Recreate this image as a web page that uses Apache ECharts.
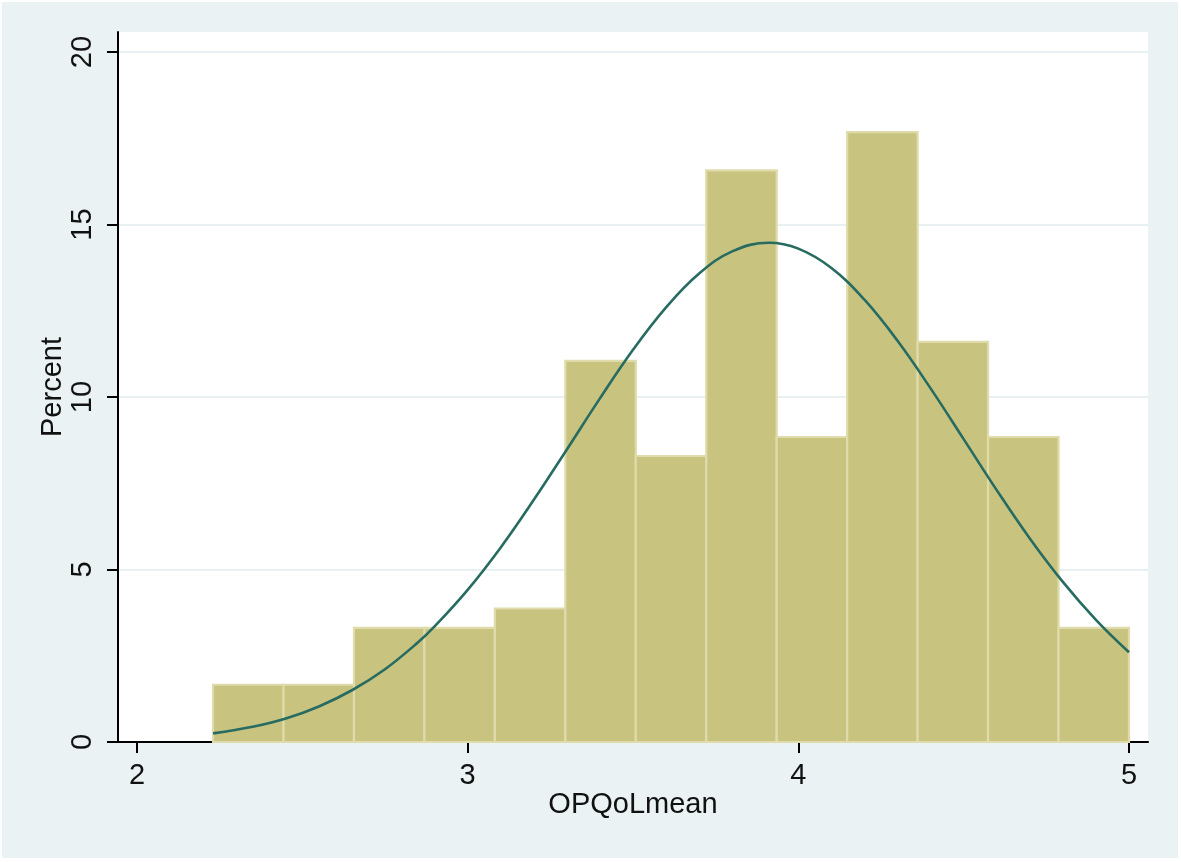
<!DOCTYPE html>
<html>
<head>
<meta charset="utf-8">
<script src="https://cdn.jsdelivr.net/npm/echarts@6/dist/echarts.min.js"></script>
<style>
html,body{margin:0;padding:0;background:#ffffff;}
#chart{width:1181px;height:862px;}
</style>
</head>
<body>
<div id="chart"></div>
<script>
// Histogram bin edges (OPQoLmean) and bar heights (Percent)
const binEdges = [2.23, 2.4431, 2.6562, 2.8692, 3.0823, 3.2954, 3.5085, 3.7215, 3.9346, 4.1477, 4.3608, 4.5738, 4.7869, 5.0];
const percents = [1.66, 1.66, 3.31, 3.31, 3.87, 11.05, 8.29, 16.57, 8.84, 17.68, 11.60, 8.84, 3.31];

// Overlaid normal density curve
const curveX = [2.23, 2.35, 2.45, 2.55, 2.65, 2.75, 2.85, 2.9, 3.0, 3.1, 3.2, 3.3, 3.4, 3.5, 3.6, 3.7, 3.8, 3.91, 4.0, 4.1, 4.2, 4.3, 4.4, 4.5, 4.6, 4.7, 4.8, 4.9, 5.0];
const curveY = [0.25, 0.44, 0.68, 1.03, 1.50, 2.11, 2.89, 3.35, 4.41, 5.64, 7.02, 8.48, 9.96, 11.37, 12.60, 13.58, 14.22, 14.47, 14.30, 13.74, 12.82, 11.63, 10.25, 8.78, 7.30, 5.90, 4.64, 3.54, 2.60];

const xTicks = [2, 3, 4, 5];
const yTicks = [0, 5, 10, 15, 20];

const histData = percents.map((p, i) => [binEdges[i], binEdges[i + 1], p]);
const lineData = curveX.map((x, i) => [x, curveY[i]]);

const FONT = "'Liberation Sans', Arial, sans-serif";
const chart = echarts.init(document.getElementById('chart'), null, {renderer: 'canvas'});

chart.setOption({
  backgroundColor: '#ffffff',
  animation: false,
  graphic: [
    {type: 'rect', z: -10, shape: {x: 2, y: 2, width: 1176, height: 856}, style: {fill: '#eaf2f3'}, silent: true},
    {type: 'line', z: 10, shape: {x1: 107, y1: 742, x2: 119, y2: 742}, style: {stroke: '#000000', lineWidth: 2}, silent: true}
  ],
  grid: {
    left: 118, right: 33, top: 32, bottom: 120,
    show: true, backgroundColor: '#ffffff', borderWidth: 0
  },
  xAxis: {
    type: 'value',
    min: 1.9425, max: 5.0575,
    name: 'OPQoLmean',
    nameLocation: 'middle',
    nameGap: 48,
    nameMoveOverlap: false,
    nameTextStyle: {fontFamily: FONT, fontSize: 29, color: '#111111'},
    axisLine: {show: true, lineStyle: {color: '#000000', width: 2}},
    axisTick: {show: true, length: 11, lineStyle: {color: '#000000', width: 2}, customValues: xTicks},
    axisLabel: {fontFamily: FONT, fontSize: 29, color: '#111111', margin: 19, customValues: xTicks},
    splitLine: {show: false}
  },
  yAxis: {
    type: 'value',
    min: 0, max: 20.58, interval: 5,
    name: 'Percent',
    nameLocation: 'middle',
    nameGap: 51,
    nameRotate: 90,
    nameMoveOverlap: false,
    nameTextStyle: {fontFamily: FONT, fontSize: 29, color: '#111111'},
    axisLine: {show: true, lineStyle: {color: '#000000', width: 2}},
    axisTick: {show: true, length: 11, lineStyle: {color: '#000000', width: 2}, customValues: yTicks},
    axisLabel: {fontFamily: FONT, fontSize: 29, color: '#111111', margin: 21, rotate: 90, customValues: yTicks},
    splitLine: {show: true, lineStyle: {color: '#e8f0f2', width: 2}}
  },
  series: [
    {
      type: 'custom',
      data: histData,
      encode: {x: [0, 1], y: 2},
      z: 2,
      renderItem: function (params, api) {
        const x0 = api.value(0), x1 = api.value(1), h = api.value(2);
        const pTop = api.coord([x0, h]);
        const pBot = api.coord([x1, 0]);
        return {
          type: 'rect',
          shape: {x: pTop[0], y: pTop[1], width: pBot[0] - pTop[0], height: pBot[1] - pTop[1]},
          style: {fill: '#c9c380', stroke: '#dfdbab', lineWidth: 2.2}
        };
      }
    },
    {
      type: 'line',
      data: lineData,
      smooth: 0.4,
      showSymbol: false,
      z: 3,
      lineStyle: {color: '#276b61', width: 2.6}
    }
  ]
});
</script>
</body>
</html>
